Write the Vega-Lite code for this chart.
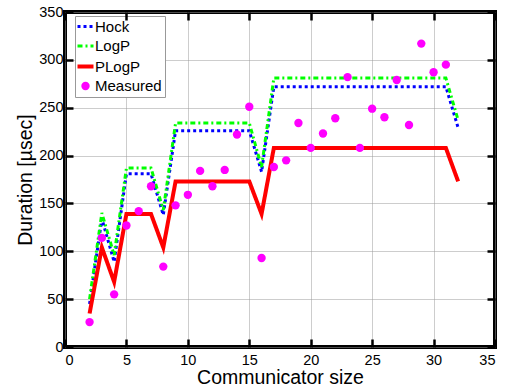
{
  "$schema": "https://vega.github.io/schema/vega-lite/v6.json",
  "width": 430,
  "height": 335,
  "autosize": "none",
  "padding": {"left": 65, "top": 12, "right": 13, "bottom": 41},
  "background": "white",
  "config": {
    "font": "Liberation Sans",
    "view": {"stroke": "black", "strokeWidth": 4},
    "axis": {
      "domain": false,
      "grid": true,
      "gridColor": "#9a9a9a",
      "gridDash": [1, 1],
      "gridWidth": 1,
      "ticks": true,
      "tickColor": "black",
      "tickWidth": 2.5,
      "tickSize": -8,
      "labelFont": "Liberation Sans",
      "labelFontSize": 14.5,
      "labelColor": "black",
      "titleFont": "Liberation Sans",
      "titleFontSize": 19.5,
      "titleFontWeight": "normal",
      "titleColor": "black"
    }
  },
  "datasets": {
    "models": [
      {"series": "Hock", "x": 2, "y": 45}, {"series": "Hock", "x": 3, "y": 134}, {"series": "Hock", "x": 4, "y": 89},
      {"series": "Hock", "x": 5, "y": 181}, {"series": "Hock", "x": 6, "y": 181}, {"series": "Hock", "x": 7, "y": 181},
      {"series": "Hock", "x": 8, "y": 138}, {"series": "Hock", "x": 9, "y": 226}, {"series": "Hock", "x": 10, "y": 226},
      {"series": "Hock", "x": 11, "y": 226}, {"series": "Hock", "x": 12, "y": 226}, {"series": "Hock", "x": 13, "y": 226},
      {"series": "Hock", "x": 14, "y": 226}, {"series": "Hock", "x": 15, "y": 226}, {"series": "Hock", "x": 16, "y": 183},
      {"series": "Hock", "x": 17, "y": 272}, {"series": "Hock", "x": 18, "y": 272}, {"series": "Hock", "x": 19, "y": 272},
      {"series": "Hock", "x": 20, "y": 272}, {"series": "Hock", "x": 21, "y": 272}, {"series": "Hock", "x": 22, "y": 272},
      {"series": "Hock", "x": 23, "y": 272}, {"series": "Hock", "x": 24, "y": 272}, {"series": "Hock", "x": 25, "y": 272},
      {"series": "Hock", "x": 26, "y": 272}, {"series": "Hock", "x": 27, "y": 272}, {"series": "Hock", "x": 28, "y": 272},
      {"series": "Hock", "x": 29, "y": 272}, {"series": "Hock", "x": 30, "y": 272}, {"series": "Hock", "x": 31, "y": 272},
      {"series": "Hock", "x": 32, "y": 229},
      {"series": "LogP", "x": 2, "y": 50}, {"series": "LogP", "x": 3, "y": 140}, {"series": "LogP", "x": 4, "y": 96},
      {"series": "LogP", "x": 5, "y": 187}, {"series": "LogP", "x": 6, "y": 187}, {"series": "LogP", "x": 7, "y": 187},
      {"series": "LogP", "x": 8, "y": 143}, {"series": "LogP", "x": 9, "y": 234}, {"series": "LogP", "x": 10, "y": 234},
      {"series": "LogP", "x": 11, "y": 234}, {"series": "LogP", "x": 12, "y": 234}, {"series": "LogP", "x": 13, "y": 234},
      {"series": "LogP", "x": 14, "y": 234}, {"series": "LogP", "x": 15, "y": 234}, {"series": "LogP", "x": 16, "y": 188},
      {"series": "LogP", "x": 17, "y": 281}, {"series": "LogP", "x": 18, "y": 281}, {"series": "LogP", "x": 19, "y": 281},
      {"series": "LogP", "x": 20, "y": 281}, {"series": "LogP", "x": 21, "y": 281}, {"series": "LogP", "x": 22, "y": 281},
      {"series": "LogP", "x": 23, "y": 281}, {"series": "LogP", "x": 24, "y": 281}, {"series": "LogP", "x": 25, "y": 281},
      {"series": "LogP", "x": 26, "y": 281}, {"series": "LogP", "x": 27, "y": 281}, {"series": "LogP", "x": 28, "y": 281},
      {"series": "LogP", "x": 29, "y": 281}, {"series": "LogP", "x": 30, "y": 281}, {"series": "LogP", "x": 31, "y": 281},
      {"series": "LogP", "x": 32, "y": 237},
      {"series": "PLogP", "x": 2, "y": 35}, {"series": "PLogP", "x": 3, "y": 104}, {"series": "PLogP", "x": 4, "y": 68},
      {"series": "PLogP", "x": 5, "y": 139}, {"series": "PLogP", "x": 6, "y": 139}, {"series": "PLogP", "x": 7, "y": 139},
      {"series": "PLogP", "x": 8, "y": 104}, {"series": "PLogP", "x": 9, "y": 173}, {"series": "PLogP", "x": 10, "y": 173},
      {"series": "PLogP", "x": 11, "y": 173}, {"series": "PLogP", "x": 12, "y": 173}, {"series": "PLogP", "x": 13, "y": 173},
      {"series": "PLogP", "x": 14, "y": 173}, {"series": "PLogP", "x": 15, "y": 173}, {"series": "PLogP", "x": 16, "y": 139},
      {"series": "PLogP", "x": 17, "y": 208}, {"series": "PLogP", "x": 18, "y": 208}, {"series": "PLogP", "x": 19, "y": 208},
      {"series": "PLogP", "x": 20, "y": 208}, {"series": "PLogP", "x": 21, "y": 208}, {"series": "PLogP", "x": 22, "y": 208},
      {"series": "PLogP", "x": 23, "y": 208}, {"series": "PLogP", "x": 24, "y": 208}, {"series": "PLogP", "x": 25, "y": 208},
      {"series": "PLogP", "x": 26, "y": 208}, {"series": "PLogP", "x": 27, "y": 208}, {"series": "PLogP", "x": 28, "y": 208},
      {"series": "PLogP", "x": 29, "y": 208}, {"series": "PLogP", "x": 30, "y": 208}, {"series": "PLogP", "x": 31, "y": 208},
      {"series": "PLogP", "x": 32, "y": 173}
    ],
    "measured": [
      {"series": "Measured", "x": 2, "y": 26}, {"series": "Measured", "x": 3, "y": 114}, {"series": "Measured", "x": 4, "y": 55},
      {"series": "Measured", "x": 5, "y": 127}, {"series": "Measured", "x": 6, "y": 142}, {"series": "Measured", "x": 7, "y": 168},
      {"series": "Measured", "x": 8, "y": 84}, {"series": "Measured", "x": 9, "y": 148}, {"series": "Measured", "x": 10, "y": 159},
      {"series": "Measured", "x": 11, "y": 184}, {"series": "Measured", "x": 12, "y": 168}, {"series": "Measured", "x": 13, "y": 185},
      {"series": "Measured", "x": 14, "y": 222}, {"series": "Measured", "x": 15, "y": 251}, {"series": "Measured", "x": 16, "y": 93},
      {"series": "Measured", "x": 17, "y": 188}, {"series": "Measured", "x": 18, "y": 195}, {"series": "Measured", "x": 19, "y": 234},
      {"series": "Measured", "x": 20, "y": 208}, {"series": "Measured", "x": 21, "y": 223}, {"series": "Measured", "x": 22, "y": 239},
      {"series": "Measured", "x": 23, "y": 282}, {"series": "Measured", "x": 24, "y": 208}, {"series": "Measured", "x": 25, "y": 249},
      {"series": "Measured", "x": 26, "y": 240}, {"series": "Measured", "x": 27, "y": 279}, {"series": "Measured", "x": 28, "y": 232},
      {"series": "Measured", "x": 29, "y": 317}, {"series": "Measured", "x": 30, "y": 287}, {"series": "Measured", "x": 31, "y": 295}
    ]
  },
  "layer": [
    {
      "data": {"name": "models"},
      "mark": {"type": "line", "strokeCap": "butt", "strokeJoin": "miter"},
      "encoding": {
        "x": {
          "field": "x", "type": "quantitative",
          "scale": {"domain": [0, 35], "nice": false},
          "axis": {"values": [0, 5, 10, 15, 20, 25, 30, 35], "title": "Communicator size", "labelPadding": 14, "titlePadding": 2}
        },
        "y": {
          "field": "y", "type": "quantitative",
          "scale": {"domain": [0, 350], "nice": false},
          "axis": {"values": [0, 50, 100, 150, 200, 250, 300, 350], "title": "Duration [µsec]", "labelPadding": 10, "titlePadding": 3}
        },
        "color": {
          "field": "series", "type": "nominal",
          "scale": {"domain": ["Hock", "LogP", "PLogP", "Measured"], "range": ["#0000ff", "#00ff00", "#ff0000", "#ff00ff"]},
          "legend": {
            "title": null,
            "orient": "none",
            "legendX": 10,
            "legendY": 4,
            "padding": 3,
            "strokeColor": "#999999",
            "fillColor": "white",
            "labelFont": "Liberation Sans",
            "labelFontSize": 15,
            "labelColor": "black",
            "labelOffset": 2,
            "rowPadding": 3.5,
            "symbolSize": 256,
            "symbolStrokeWidth": 3,
            "symbolType": "stroke",
            "encode": {
              "symbols": {
                "update": {
                  "shape": {"signal": "datum.value === 'Measured' ? 'circle' : 'stroke'"},
                  "size": {"signal": "datum.value === 'Measured' ? 70 : 256"},
                  "fill": {"signal": "datum.value === 'Measured' ? '#ff00ff' : 'transparent'"},
                  "strokeWidth": {"signal": "datum.value === 'Measured' ? 0 : (datum.value === 'PLogP' ? 4 : 3)"},
                  "opacity": {"value": 1}
                }
              }
            }
          }
        },
        "strokeDash": {
          "field": "series", "type": "nominal",
          "scale": {"domain": ["Hock", "LogP", "PLogP", "Measured"], "range": [[3, 3], [5, 3, 2, 3], [1, 0], [1, 0]]}
        },
        "strokeWidth": {"condition": {"test": "datum.series === 'PLogP'", "value": 4}, "value": 3}
      }
    },
    {
      "data": {"name": "measured"},
      "mark": {"type": "point", "filled": true, "size": 70, "opacity": 1},
      "encoding": {
        "x": {"field": "x", "type": "quantitative", "axis": null},
        "y": {"field": "y", "type": "quantitative", "axis": null},
        "color": {"field": "series", "type": "nominal"}
      }
    },
    {
      "data": {"name": "measured"},
      "mark": {"type": "point", "opacity": 0},
      "encoding": {
        "x": {"field": "x", "type": "quantitative", "axis": {"orient": "top", "zindex": 1, "values": [0, 5, 10, 15, 20, 25, 30, 35], "labels": false, "grid": false, "title": null}},
        "y": {"field": "y", "type": "quantitative", "axis": {"orient": "right", "zindex": 1, "values": [0, 50, 100, 150, 200, 250, 300, 350], "labels": false, "grid": false, "title": null}}
      }
    }
  ],
  "resolve": {"axis": {"x": "independent", "y": "independent"}}
}
